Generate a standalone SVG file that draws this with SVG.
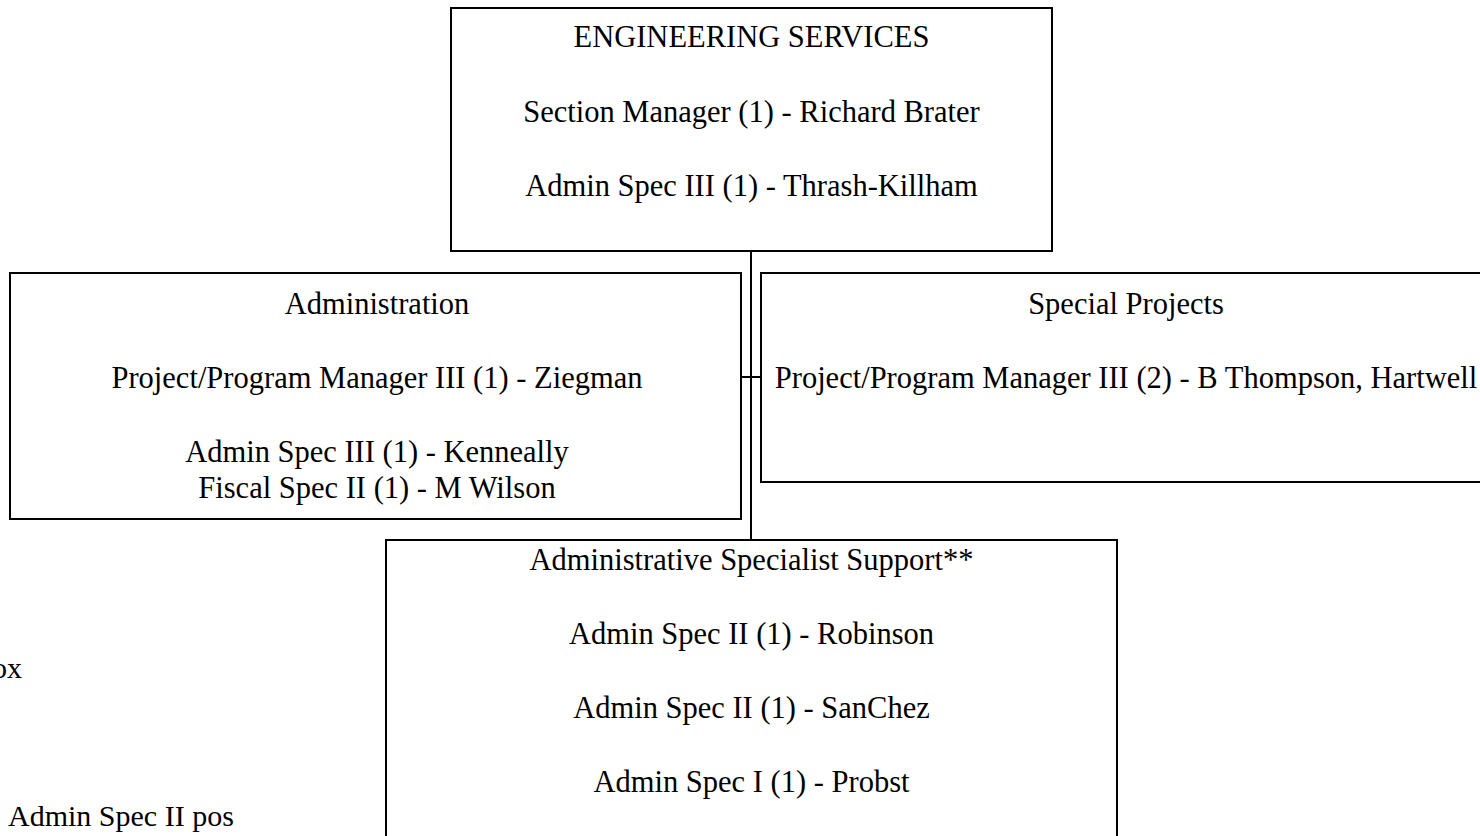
<svg xmlns="http://www.w3.org/2000/svg" width="1480" height="836" viewBox="0 0 1480 836">
<style>
.box{fill:#fff;stroke:#000;stroke-width:2}
.t{font-family:"Liberation Serif","Times New Roman",serif;font-size:30.5px;fill:#000;text-anchor:middle}
.l{font-family:"Liberation Serif","Times New Roman",serif;font-size:30px;fill:#000}
.c{stroke:#000;stroke-width:2;fill:none}
</style>
<rect width="1480" height="836" fill="#fff"/>
<g id="connectors">
<line class="c" x1="751" y1="251" x2="751" y2="540"/>
<line class="c" x1="741" y1="377" x2="761" y2="377"/>
</g>
<g id="engineering-services">
<rect class="box" x="451" y="8" width="601" height="243"/>
<text class="t" x="751.5" y="47">ENGINEERING SERVICES</text>
<text class="t" x="751.5" y="122">Section Manager (1) - Richard Brater</text>
<text class="t" x="751.5" y="196">Admin Spec III (1) - Thrash-Killham</text>
</g>
<g id="administration">
<rect class="box" x="10" y="273" width="731" height="246"/>
<text class="t" x="377" y="314">Administration</text>
<text class="t" x="377" y="388">Project/Program Manager III (1) - Ziegman</text>
<text class="t" x="377" y="462">Admin Spec III (1) - Kenneally</text>
<text class="t" x="377" y="498">Fiscal Spec II (1) - M Wilson</text>
</g>
<g id="special-projects">
<rect class="box" x="761" y="273" width="740" height="209"/>
<text class="t" x="1126" y="314">Special Projects</text>
<text class="t" x="1126" y="388">Project/Program Manager III (2) - B Thompson, Hartwell</text>
</g>
<g id="admin-specialist-support">
<rect class="box" x="386" y="540" width="731" height="320"/>
<text class="t" x="751.5" y="570">Administrative Specialist Support**</text>
<text class="t" x="751.5" y="644">Admin Spec II (1) - Robinson</text>
<text class="t" x="751.5" y="718">Admin Spec II (1) - SanChez</text>
<text class="t" x="751.5" y="792">Admin Spec I (1) - Probst</text>
</g>
<g id="notes">
<text class="l" x="22" y="678" text-anchor="end">ox</text>
<text class="l" x="8" y="826">Admin Spec II pos</text>
</g>
</svg>
